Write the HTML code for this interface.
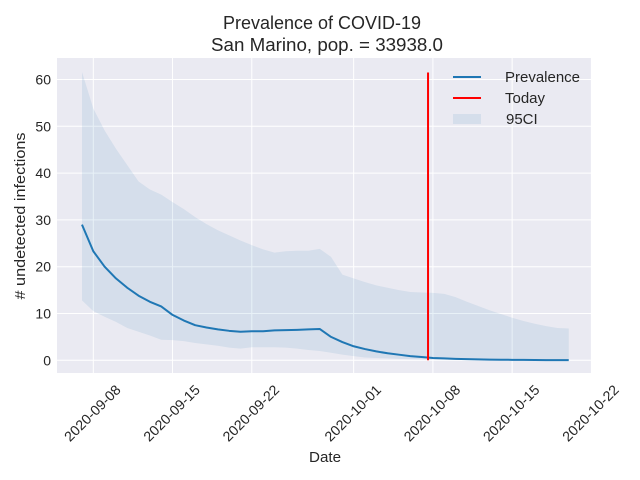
<!DOCTYPE html>
<html><head><meta charset="utf-8"><style>
body{margin:0;background:#fff;}
svg{display:block;font-family:"Liberation Sans","DejaVu Sans",sans-serif;}
</style></head><body>
<svg id="chart" width="640" height="480">
<rect x="0" y="0" width="640" height="480" fill="#fff"/>
<rect x="57" y="58" width="534" height="315" fill="#eaeaf2"/>
<g id="grid"></g>
<g id="marks"></g>
<g id="ticks" fill="#262626" font-size="14"></g>
<text x="322" y="29" text-anchor="middle" font-size="18" fill="#262626" textLength="198" lengthAdjust="spacingAndGlyphs">Prevalence of COVID-19</text>
<text x="327" y="51" text-anchor="middle" font-size="18" fill="#262626" textLength="232" lengthAdjust="spacingAndGlyphs">San Marino, pop. = 33938.0</text>
<text x="325" y="462" text-anchor="middle" font-size="15" fill="#262626" textLength="32" lengthAdjust="spacingAndGlyphs">Date</text>
<text transform="translate(25,216) rotate(-90)" text-anchor="middle" font-size="15" fill="#262626" textLength="167" lengthAdjust="spacingAndGlyphs"># undetected infections</text>
<g font-size="15" fill="#262626">
<line x1="453" y1="77" x2="481" y2="77" stroke="#1f77b4" stroke-width="2"/>
<text x="505" y="82" textLength="75" lengthAdjust="spacingAndGlyphs">Prevalence</text>
<line x1="453" y1="98" x2="481" y2="98" stroke="#ff0000" stroke-width="2"/>
<text x="505" y="103">Today</text>
<rect x="453" y="114" width="28" height="10" fill="#1f77b4" fill-opacity="0.1"/>
<text x="506" y="124">95CI</text>
</g>
</svg>
<script>
const prevalence=[29,23.3,20,17.5,15.5,13.8,12.5,11.5,9.7,8.5,7.5,7,6.6,6.3,6.1,6.2,6.2,6.4,6.45,6.5,6.6,6.7,5.0,3.9,3.0,2.4,1.9,1.5,1.2,0.9,0.7,0.5,0.4,0.3,0.25,0.2,0.15,0.12,0.1,0.08,0.06,0.05,0.04,0.03];
const upper=[61.6,53.8,49.1,45.2,41.7,38.2,36.5,35.4,33.8,32.3,30.6,29.1,27.8,26.7,25.6,24.6,23.7,23.0,23.3,23.4,23.4,23.8,22.1,18.3,17.5,16.7,16.0,15.5,15.0,14.6,14.5,14.4,14.2,13.5,12.5,11.6,10.7,9.9,9.1,8.4,7.8,7.3,6.9,6.8];
const lower=[12.8,10.5,9.3,8.2,6.9,6.1,5.3,4.4,4.3,4.1,3.7,3.4,3.1,2.7,2.5,2.8,2.8,2.8,2.7,2.5,2.2,2.0,1.6,1.2,0.9,0.6,0.5,0.4,0.3,0.25,0.2,0.15,0.12,0.1,0.08,0.06,0.05,0.04,0.03,0.02,0.02,0.01,0.01,0.01];
const startDay=-1;
const todayDay=29.57;
const xTickDays=[0,7,14,23,30,37,44];
const xTickLabels=["2020-09-08","2020-09-15","2020-09-22","2020-10-01","2020-10-08","2020-10-15","2020-10-22"];
const yTicks=[0,10,20,30,40,50,60];

const NS="http://www.w3.org/2000/svg";
const X=d=>93.3+d*11.32;
const Y=v=>360.3-v*4.68;
function mk(tag,attrs,parent){const e=document.createElementNS(NS,tag);for(const k in attrs)e.setAttribute(k,attrs[k]);parent.appendChild(e);return e;}
const grid=document.getElementById('grid'),marks=document.getElementById('marks'),ticks=document.getElementById('ticks');
yTicks.forEach(v=>{
  const l=mk('line',{x1:57,x2:591,y1:Y(v),y2:Y(v),stroke:'#fff','stroke-width':1},grid);
  
  
  const t=mk('text',{x:51,y:Y(v)+5,'text-anchor':'end'},ticks);
  t.textContent=v;
  
  
});
xTickDays.forEach((d,i)=>{
  const l=mk('line',{x1:X(d),x2:X(d),y1:58,y2:373,stroke:'#fff','stroke-width':1},grid);
  
  
  const t=mk('text',{transform:`translate(${X(d)-1},${413}) rotate(-45)`,'text-anchor':'middle',x:0,y:5,textLength:73,lengthAdjust:'spacingAndGlyphs'},ticks);
  t.textContent=xTickLabels[i];
  
  
});
const upperPts=upper.map((v,i)=>`${X(startDay+i)},${Y(v)}`);
const lowerPts=lower.map((v,i)=>`${X(startDay+i)},${Y(v)}`).reverse();
const band=mk('polygon',{points:upperPts.concat(lowerPts).join(' '),fill:'#1f77b4','fill-opacity':0.1},marks);


const line=mk('polyline',{points:prevalence.map((v,i)=>`${X(startDay+i)},${Y(v)}`).join(' '),fill:'none',stroke:'#1f77b4','stroke-width':2,'stroke-linejoin':'round'},marks);


const today=mk('line',{x1:X(todayDay),x2:X(todayDay),y1:Y(61.5),y2:Y(0),stroke:'#ff0000','stroke-width':2},marks);


</script>
</body></html>
